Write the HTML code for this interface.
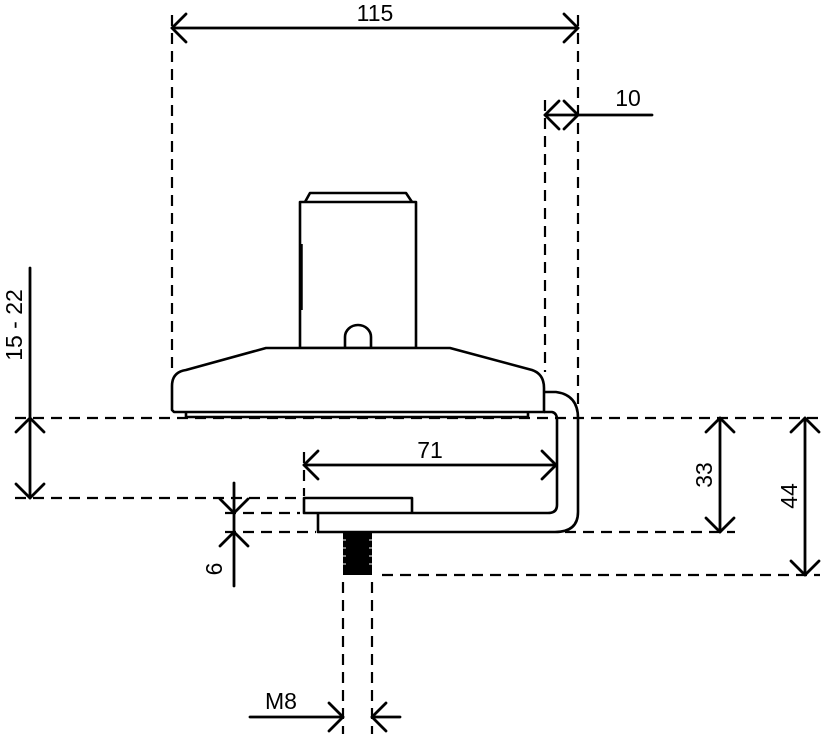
<!DOCTYPE html>
<html><head><meta charset="utf-8"><style>
html,body{margin:0;padding:0;background:#fff;}
svg{display:block;}
text{font-family:"Liberation Sans",sans-serif;font-size:23px;fill:#000;}
</style></head><body>
<svg width="821" height="734" viewBox="0 0 821 734" xmlns="http://www.w3.org/2000/svg">
<g fill="none" stroke="#000" stroke-width="2.2" stroke-dasharray="11,7">
<line x1="172" y1="15" x2="172" y2="370"/>
<line x1="578" y1="15" x2="578" y2="410"/>
<line x1="545" y1="100" x2="545" y2="372"/>
<line x1="15" y1="418" x2="820" y2="418"/>
<line x1="15" y1="498" x2="300" y2="498"/>
<line x1="225" y1="513" x2="300" y2="513"/>
<line x1="225" y1="532" x2="316" y2="532"/>
<line x1="565" y1="532" x2="735" y2="532"/>
<line x1="382" y1="575" x2="820" y2="575"/>
<line x1="304" y1="452" x2="304" y2="496"/>
<line x1="343" y1="582" x2="343" y2="734"/>
<line x1="372" y1="582" x2="372" y2="734"/>
</g>
<g fill="none" stroke="#000" stroke-width="2.8" stroke-linecap="round" stroke-linejoin="round">
<!-- 115 -->
<line x1="172" y1="28" x2="578" y2="28"/>
<polyline points="186,14 172,28 186,42"/><polyline points="564,14 578,28 564,42"/>
<!-- 10 -->
<line x1="545" y1="115" x2="652" y2="115"/>
<polyline points="559,101 545,115 559,129"/><polyline points="564,101 578,115 564,129"/>
<!-- 15-22 -->
<line x1="30" y1="268" x2="30" y2="498"/>
<polyline points="16,432 30,418 44,432"/><polyline points="16,484 30,498 44,484"/>
<!-- 71 -->
<line x1="304" y1="465" x2="556" y2="465"/>
<polyline points="318,451 304,465 318,479"/><polyline points="542,451 556,465 542,479"/>
<!-- 33 -->
<line x1="720" y1="418" x2="720" y2="532"/>
<polyline points="706,432 720,418 734,432"/><polyline points="706,518 720,532 734,518"/>
<!-- 44 -->
<line x1="805" y1="418" x2="805" y2="575"/>
<polyline points="791,432 805,418 819,432"/><polyline points="791,561 805,575 819,561"/>
<!-- 6 -->
<line x1="234" y1="483" x2="234" y2="586"/>
<polyline points="220,499 234,513 248,499"/><polyline points="220,546 234,532 248,546"/>
<!-- M8 -->
<line x1="250" y1="717" x2="343" y2="717"/>
<polyline points="329,703 343,717 329,731"/>
<line x1="372" y1="717" x2="400" y2="717"/>
<polyline points="386,703 372,717 386,731"/>
</g>
<g fill="none" stroke="#000" stroke-width="2.6" stroke-linejoin="round">
<!-- stem -->
<rect x="300" y="202" width="116" height="146"/>
<path d="M305,202 L310,193 L406,193 L412,202" />
<line x1="301" y1="244" x2="301" y2="310" stroke-width="3.5"/>
<path d="M345,348 L345,337 A13,12 0 0 1 371,337 L371,348"/>
<!-- base -->
<path d="M266,348 L450,348 L532,370 Q544,374 544,388 L544,412 L174,412 L172,410 L172,386 Q172,372 186,370 Z" fill="#fff"/>
<path d="M186,412 L186,417 L528,417 L528,412"/>
<!-- bracket -->
<path d="M544,392 L556,392 Q578,395 578,418 L578,512 Q578,532 555,532 L318,532 L318,513"/>
<path d="M544,412 L552,412 Q557,413 557,420 L557,505 Q557,513 548,513 L304,513 L304,498 L412,498 L412,513"/>
</g>
<!-- bolt -->
<rect x="343" y="533" width="29" height="42" fill="#000"/>
<g stroke="#fff" stroke-width="1">
<line x1="343" y1="540" x2="346" y2="540"/><line x1="343" y1="548" x2="346" y2="548"/><line x1="343" y1="556" x2="346" y2="556"/><line x1="343" y1="564" x2="346" y2="564"/>
<line x1="369" y1="540" x2="372" y2="540"/><line x1="369" y1="548" x2="372" y2="548"/><line x1="369" y1="556" x2="372" y2="556"/><line x1="369" y1="564" x2="372" y2="564"/>
</g>
<text x="375" y="21" text-anchor="middle">115</text>
<text x="628" y="106" text-anchor="middle">10</text>
<text x="430" y="458" text-anchor="middle">71</text>
<text x="281" y="709" text-anchor="middle">M8</text>
<text transform="translate(22,325) rotate(-90)" text-anchor="middle">15 - 22</text>
<text transform="translate(712,475) rotate(-90)" text-anchor="middle">33</text>
<text transform="translate(797,496) rotate(-90)" text-anchor="middle">44</text>
<text transform="translate(222,569) rotate(-90)" text-anchor="middle">6</text>
</svg>
</body></html>
